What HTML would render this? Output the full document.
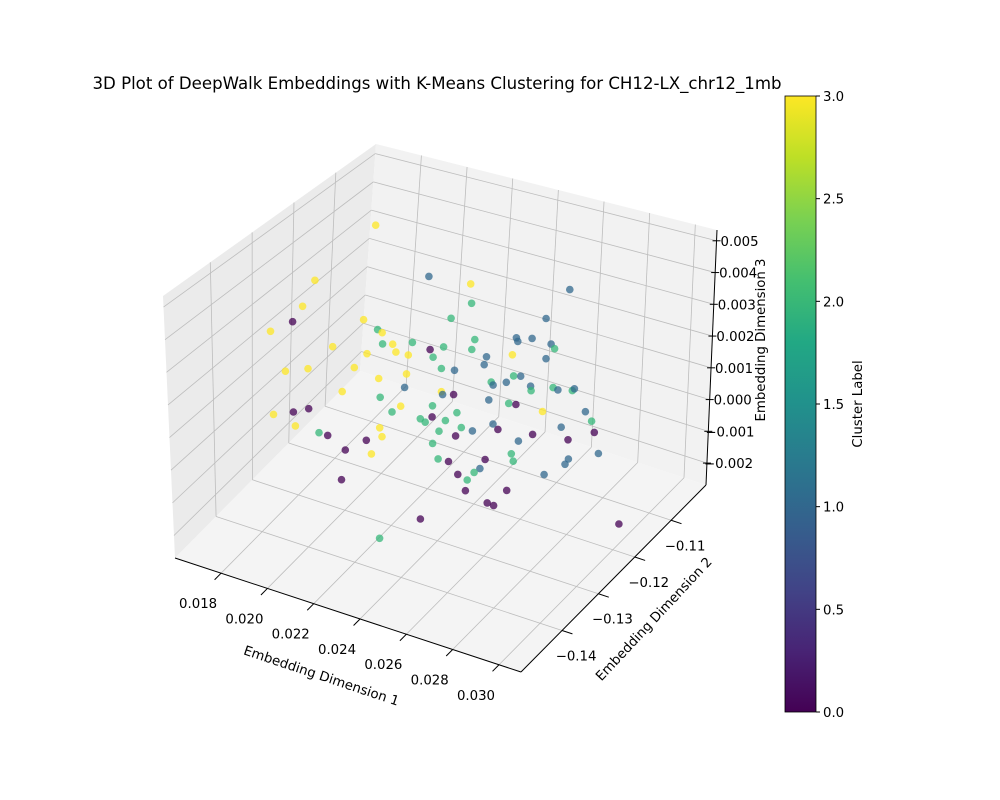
<!DOCTYPE html>
<html><head><meta charset="utf-8"><style>
html,body{margin:0;padding:0;background:#fff;}
svg{display:block;font-family:"DejaVu Sans","Liberation Sans",sans-serif;}
</style></head><body>
<svg id="chart" width="1000" height="800" viewBox="0 0 1000 800" xmlns="http://www.w3.org/2000/svg">
<defs>
<linearGradient id="viridis" x1="0" y1="1" x2="0" y2="0">
<stop offset="0" stop-color="#440154"/><stop offset="0.1" stop-color="#482475"/><stop offset="0.2" stop-color="#414487"/><stop offset="0.3" stop-color="#355f8d"/><stop offset="0.4" stop-color="#2a788e"/><stop offset="0.5" stop-color="#21918c"/><stop offset="0.6" stop-color="#22a884"/><stop offset="0.7" stop-color="#44bf70"/><stop offset="0.8" stop-color="#7ad151"/><stop offset="0.9" stop-color="#bddf26"/><stop offset="1" stop-color="#fde725"/>
</linearGradient>
</defs>
<text x="437" y="89" font-size="16.6" text-anchor="middle">3D Plot of DeepWalk Embeddings with K-Means Clustering for CH12-LX_chr12_1mb</text>
<g id="panes"></g><g id="grid"></g><g id="axes"></g><g id="points"></g>
<text font-size="13.3" text-anchor="middle" transform="translate(320,680) rotate(18.5)">Embedding Dimension 1</text>
<text font-size="13.3" text-anchor="middle" transform="translate(657,622) rotate(-47)">Embedding Dimension 2</text>
<text font-size="13.3" text-anchor="middle" transform="translate(765,340) rotate(-90)">Embedding Dimension 3</text>
<g id="cbar">
<rect x="785" y="96" width="31" height="616" fill="url(#viridis)" stroke="#000" stroke-width="0.8"/>
</g>
<text font-size="13.3" text-anchor="middle" transform="translate(862,404) rotate(-90)">Cluster Label</text>
</svg>
<script>
const dim1 = [0.02067,0.01802,0.01749,0.01706,0.01610,0.02015,0.02076,0.02096,0.01881,0.02098,0.02142,0.02228,0.02030,0.02156,0.02210,0.02305,0.02364,0.02500,0.02487,0.02300,0.02483,0.02487,0.02397,0.02918,0.02813,0.02682,0.02688,0.02751,0.02834,0.02849,0.02811,0.02664,0.02541,0.02551,0.01676,0.01774,0.01975,0.02318,0.02081,0.02202,0.02354,0.02411,0.01923,0.02194,0.02088,0.02354,0.02359,0.02407,0.02571,0.02579,0.02637,0.02669,0.02700,0.02743,0.02745,0.02841,0.02862,0.02925,0.02934,0.02560,0.02647,0.02678,0.02794,0.01626,0.01712,0.01778,0.02177,0.02139,0.02315,0.02262,0.02283,0.02313,0.02371,0.02421,0.01721,0.01823,0.01861,0.02028,0.02086,0.02096,0.01937,0.02050,0.02343,0.02440,0.02415,0.02488,0.02578,0.02599,0.02750,0.02875,0.02981,0.03008,0.03019,0.02904,0.02688,0.02315,0.02339,0.02384,0.02543,0.02657,0.02665,0.02520,0.02495,0.02465,0.02424,0.02905,0.02890,0.03036,0.02799,0.01921,0.02457,0.02636,0.02551,0.02579,0.02262,0.02086,0.03122];
const dim3 = [0.00603,0.00377,0.00282,0.00223,0.00171,0.00293,0.00274,0.00268,0.00179,0.00233,0.00241,0.00264,0.00188,0.00219,0.00221,0.00257,0.00277,0.00326,0.00293,0.00484,0.00494,0.00435,0.00372,0.00553,0.00448,0.00366,0.00356,0.00377,0.00375,0.00364,0.00327,0.00311,0.00257,0.00283,0.00055,0.00085,0.00132,0.00236,0.00120,0.00160,0.00208,0.00214,0.00044,0.00116,0.00062,0.00136,0.00128,0.00138,0.00210,0.00202,0.00222,0.00248,0.00253,0.00231,0.00218,0.00246,0.00243,0.00253,0.00260,0.00153,0.00160,0.00163,0.00165,-0.00098,-0.00070,-0.00044,0.00053,0.00027,0.00084,0.00032,0.00026,0.00049,0.00050,0.00085,-0.00113,-0.00111,-0.00111,-0.00088,-0.00035,-0.00061,-0.00140,-0.00126,0.00011,0.00043,0.00012,0.00043,0.00083,0.00071,0.00087,0.00134,0.00201,0.00178,0.00147,0.00102,0.00054,-0.00033,-0.00076,-0.00074,-0.00033,0.00009,-0.00012,-0.00066,-0.00083,-0.00113,-0.00105,0.00045,0.00026,0.00088,-0.00024,-0.00239,-0.00148,-0.00107,-0.00164,-0.00166,-0.00281,-0.00385,-0.00102];
const clusters = [3,3,3,0,3,3,2,3,3,2,3,2,3,3,3,0,2,2,2,1,3,2,2,1,1,1,1,1,1,2,1,3,1,1,3,3,3,2,3,3,2,1,3,1,2,3,1,0,2,1,1,2,1,1,2,2,1,2,1,1,2,0,3,3,0,0,3,2,2,2,2,0,2,2,3,2,0,0,3,3,0,3,2,2,0,1,1,0,0,1,1,2,0,0,1,2,2,0,0,2,2,1,2,2,0,1,1,1,1,0,0,0,0,0,0,2,0];
const dim2Value = -0.1259;
const xTicks = [0.018,0.020,0.022,0.024,0.026,0.028,0.030];
const xTickLabels = ["0.018","0.020","0.022","0.024","0.026","0.028","0.030"];
const yTicks = [-0.14,-0.13,-0.12,-0.11];
const yTickLabels = ["\u22120.14","\u22120.13","\u22120.12","\u22120.11"];
const zTicks = [-0.002,-0.001,0,0.001,0.002,0.003,0.004,0.005];
const zTickLabels = ["\u22120.002","\u22120.001","0.000","0.001","0.002","0.003","0.004","0.005"];
const cbarTicks = [0,0.5,1,1.5,2,2.5,3];
const cbarTickLabels = ["0.0","0.5","1.0","1.5","2.0","2.5","3.0"];

const X0=0.01601,X1=0.03095,Y0=-0.1513,Y1=-0.1004,Z0=-0.00269,Z1=0.00534;
const C={ '000':[175,558],'100':[521,672],'010':[360,371],'110':[706,485],
          '001':[163,296],'101':[504,382],'011':[376,144],'111':[717,230]};
function lerp(a,b,t){return [a[0]+(b[0]-a[0])*t,a[1]+(b[1]-a[1])*t];}
function projUVW(u,v,w){
  const b0=lerp(lerp(C['000'],C['100'],u),lerp(C['010'],C['110'],u),v);
  const b1=lerp(lerp(C['001'],C['101'],u),lerp(C['011'],C['111'],u),v);
  return lerp(b0,b1,w);
}
function xs(x){return (x-X0)/(X1-X0);} function ys(y){return (y-Y0)/(Y1-Y0);} function zs(z){return (z-Z0)/(Z1-Z0);}
function proj(x,y,z){return projUVW(xs(x),ys(y),zs(z));}
const NS="http://www.w3.org/2000/svg";
function mk(tag,parent,attrs){const e=document.createElementNS(NS,tag);for(const k in attrs)e.setAttribute(k,attrs[k]);parent.appendChild(e);return e;}
function poly(pts){return pts.map(p=>p[0].toFixed(1)+","+p[1].toFixed(1)).join(" ");}
const panes=document.getElementById('panes'),grid=document.getElementById('grid'),axes=document.getElementById('axes'),pg=document.getElementById('points');
let e;
e=mk('polygon',panes,{points:poly([projUVW(0,0,0),projUVW(0,1,0),projUVW(0,1,1),projUVW(0,0,1)]),fill:'#ebebeb'});


e=mk('polygon',panes,{points:poly([projUVW(0,1,0),projUVW(1,1,0),projUVW(1,1,1),projUVW(0,1,1)]),fill:'#f2f2f2'});


e=mk('polygon',panes,{points:poly([projUVW(0,0,0),projUVW(1,0,0),projUVW(1,1,0),projUVW(0,1,0)]),fill:'#f4f4f4'});


function line(p,q,parent,col,wd){return mk('line',parent,{x1:p[0],y1:p[1],x2:q[0],y2:q[1],stroke:col,'stroke-width':wd});}
const gc='#bdbdbd';
xTicks.forEach(t=>{const u=xs(t);
  e=line(projUVW(u,0,0),projUVW(u,1,0),grid,gc,0.8);
  
  
  e=line(projUVW(u,1,0),projUVW(u,1,1),grid,gc,0.8);
  
  });
yTicks.forEach(t=>{const v=ys(t);
  e=line(projUVW(0,v,0),projUVW(1,v,0),grid,gc,0.8);
  
  
  e=line(projUVW(0,v,0),projUVW(0,v,1),grid,gc,0.8);
  
  });
zTicks.forEach(t=>{const w=zs(t);
  e=line(projUVW(0,0,w),projUVW(0,1,w),grid,gc,0.8);
  
  
  e=line(projUVW(0,1,w),projUVW(1,1,w),grid,gc,0.8);
  
  });
e=line(projUVW(0,0,0),projUVW(1,0,0),axes,'#000',1);


e=line(projUVW(1,0,0),projUVW(1,1,0),axes,'#000',1);


e=line(projUVW(1,1,0),projUVW(1,1,1),axes,'#000',1);


function txt(parent,x,y,s,anchor){const t=mk('text',parent,{x:x,y:y,'font-size':13.3,'text-anchor':anchor});t.textContent=s;return t;}
xTicks.forEach((t,i)=>{const p=projUVW(xs(t),0,0),q=projUVW(xs(t),-0.035,0);
  e=line(p,q,axes,'#000',1);
  
  
  e=txt(axes,p[0]-23,p[1]+35,xTickLabels[i],'middle');
  
  });
yTicks.forEach((t,i)=>{const p=projUVW(1,ys(t),0),q=projUVW(1.03,ys(t),0);
  e=line(p,q,axes,'#000',1);
  
  
  e=txt(axes,p[0]+14,p[1]+30,yTickLabels[i],'middle');
  
  });
zTicks.forEach((t,i)=>{const p=projUVW(1,1,zs(t));
  e=line([p[0]-4,p[1]],[p[0]+4,p[1]],axes,'#000',1);
  
  
  e=txt(axes,p[0]+(t<0?-3:4),p[1]+5,zTickLabels[i],'start');
  
  });
const cols=['#440154','#31688e','#35b779','#fde725'];
dim1.forEach((d,i)=>{const p=proj(d,dim2Value,dim3[i]);
  const c=mk('circle',pg,{cx:p[0].toFixed(1),cy:p[1].toFixed(1),r:3.8,fill:cols[clusters[i]],'fill-opacity':0.75});
  
  });
const cb=document.getElementById('cbar');
cbarTicks.forEach((t,i)=>{const y=712-t/3*616;
  e=line([816,y],[820,y],cb,'#000',1);
  
  
  e=txt(cb,823,y+5,cbarTickLabels[i],'start');
  
  });
</script>
</body></html>
